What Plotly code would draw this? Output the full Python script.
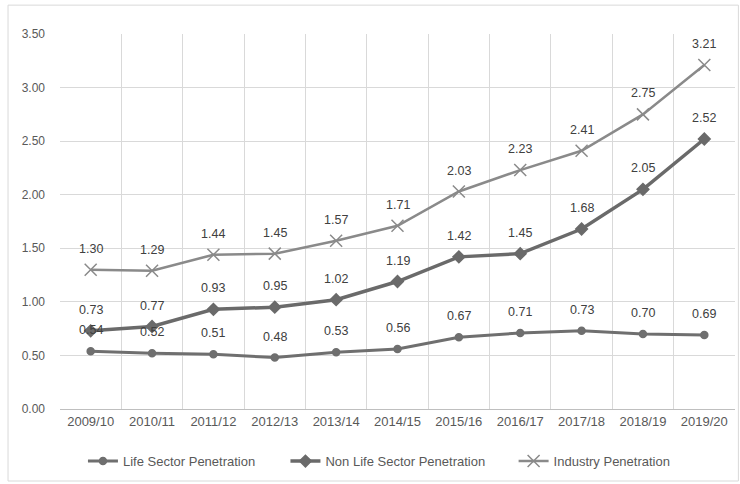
import plotly.graph_objects as go

years = ["2009/10", "2010/11", "2011/12", "2012/13", "2013/14", "2014/15",
         "2015/16", "2016/17", "2017/18", "2018/19", "2019/20"]
life = [0.54, 0.52, 0.51, 0.48, 0.53, 0.56, 0.67, 0.71, 0.73, 0.70, 0.69]
nonlife = [0.73, 0.77, 0.93, 0.95, 1.02, 1.19, 1.42, 1.45, 1.68, 2.05, 2.52]
industry = [1.30, 1.29, 1.44, 1.45, 1.57, 1.71, 2.03, 2.23, 2.41, 2.75, 3.21]
y_ticks = [0, 0.5, 1.0, 1.5, 2.0, 2.5, 3.0, 3.5]

FONT = "Liberation Sans"
TXT = "#595959"
fig = go.Figure()
series = [
    ("Life Sector Penetration", life, "#6f6f6f", "circle", 7, 3, "legend", 0.034),
    ("Non Life Sector Penetration", nonlife, "#6a6a6a", "diamond", 9, 3.5, "legend2", 0.334),
    ("Industry Penetration", industry, "#8a8a8a", "x-thin", 12, 2.5, "legend3", 0.672),
]
legends = {}
for name, vals, col, sym, ms, lw, lg, lx in series:
    fig.add_trace(go.Scatter(
        x=years, y=vals, name=name, mode="lines+markers", legend=lg,
        line=dict(color=col, width=lw),
        marker=dict(symbol=sym, size=ms, color=col,
                    line=dict(color=col, width=1.5)),
    ))
    legends[lg] = dict(orientation="h", x=lx, xanchor="left", y=-0.139,
                       yanchor="middle", bgcolor="rgba(0,0,0,0)",
                       font=dict(family=FONT, size=13, color=TXT))
    for xv, yv in zip(years, vals):
        fig.add_annotation(x=xv, y=yv, text=f"{yv:.2f}", showarrow=False,
                           yshift=21, font=dict(family=FONT, size=12.5, color="#404040"))

fig.update_layout(
    width=740, height=484,
    margin=dict(l=60, r=5, t=34, b=75, autoexpand=False),
    paper_bgcolor="white", plot_bgcolor="white",
    font=dict(family=FONT, size=12, color=TXT),
    showlegend=True,
    **legends,
    xaxis=dict(range=[-0.5, len(years) - 0.5],
               showgrid=True, gridcolor="#d9d9d9", gridwidth=1,
               tickson="boundaries", ticks="", showline=True,
               linecolor="#bfbfbf", tickfont=dict(size=13, color=TXT),
               zeroline=False, automargin=False),
    yaxis=dict(range=[0, 3.5], tickvals=y_ticks, tickformat=".2f",
               showgrid=True, gridcolor="#d9d9d9", gridwidth=1,
               zeroline=False, showline=False, ticks="",
               ticklabelstandoff=14, automargin=False,
               tickfont=dict(size=12, color=TXT)),
)
fig.add_shape(type="rect", xref="paper", yref="paper",
              x0=-0.077, x1=1.005, y0=-0.192, y1=1.077,
              line=dict(color="#d9d9d9", width=1), layer="below")

fig.write_html("out.html")
